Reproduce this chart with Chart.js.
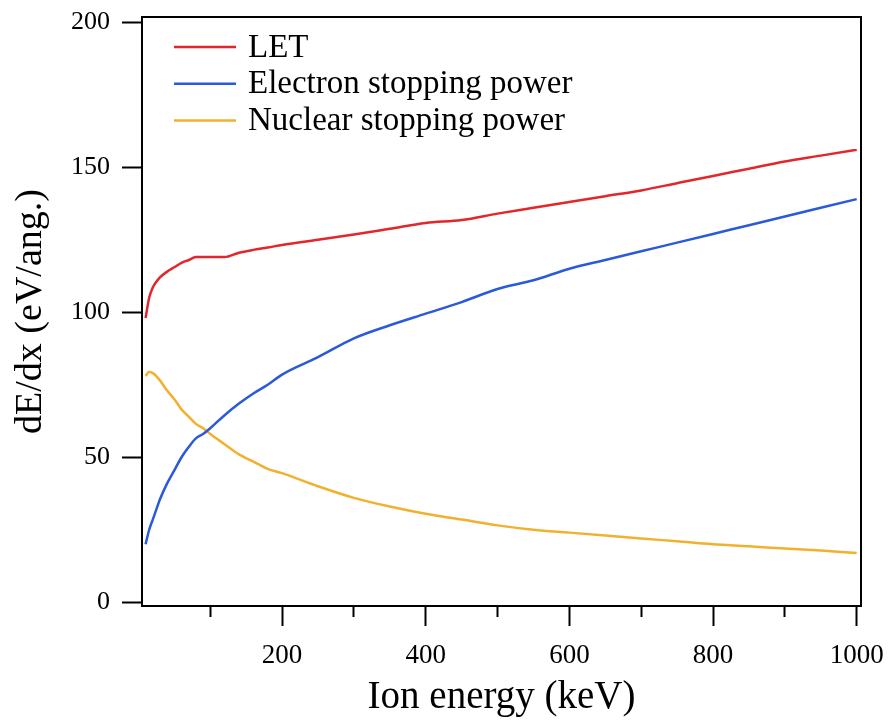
<!DOCTYPE html>
<html>
<head>
<meta charset="utf-8">
<script src="https://cdn.jsdelivr.net/npm/chart.js@4/dist/chart.umd.min.js"></script>
<style>
  html, body { margin: 0; padding: 0; background: #fff; }
  #wrap { width: 889px; height: 722px; }
</style>
</head>
<body>
<div id="wrap"><canvas id="stopping-chart"></canvas></div>
<script>
// Ion energy (keV) and stopping values (eV/ang.)
const energy = [10, 15, 20, 25, 30, 40, 50, 60, 70, 80, 90, 100, 120, 140, 160, 180, 200,
                250, 300, 350, 400, 450, 500, 550, 600, 650, 700, 750, 800, 850, 900, 950, 1000];
const letValues = [98, 105, 108.5, 110.5, 112, 114, 115.5, 117, 118, 119, 119, 119, 119, 120.5, 121.5, 122.3, 123.2,
                   125, 126.8, 128.8, 130.8, 131.8, 134, 136, 138, 140, 142, 144.5, 147, 149.5, 152, 154, 156];
const electronValues = [20, 25, 28.5, 32, 35.5, 41, 45.5, 50, 53.5, 56.5, 58, 60, 64.5, 68.5, 72, 75, 78.5,
                        84.5, 91, 95.5, 99.5, 103.5, 108, 111, 115, 118, 121, 124, 127, 130, 133, 136, 139];
const nuclearValues = [78, 79.5, 79, 78, 76.5, 73, 70, 66.5, 64, 61.5, 60, 58, 54.5, 51, 48.5, 46, 44.5,
                       40, 36, 33, 30.5, 28.5, 26.5, 25, 24, 23, 22, 21, 20, 19.3, 18.5, 17.8, 17];

const seriesLabels = ['LET', 'Electron stopping power', 'Nuclear stopping power'];
const seriesColors = ['#e3262b', '#2b5ad8', '#f1b12e'];

const xTicks = [100, 200, 300, 400, 500, 600, 700, 800, 900, 1000];
const yTicks = [0, 50, 100, 150, 200];

const serif = '"Liberation Serif", "Times New Roman", serif';

function toPoints(values) {
    return values.map((v, i) => ({ x: energy[i], y: v }));
}

// box around the plot plus the key in the upper left corner
const frameAndKey = {
    id: 'frameAndKey',
    afterDatasetsDraw(chart) {
        const { ctx, chartArea: a } = chart;
        ctx.save();
        ctx.strokeStyle = '#000';
        ctx.lineWidth = 2;
        ctx.strokeRect(a.left, a.top, a.right - a.left, a.bottom - a.top);

        ctx.font = '33px ' + serif;
        ctx.textBaseline = 'middle';
        ctx.textAlign = 'left';
        chart.data.datasets.forEach((ds, i) => {
            const y = a.top + 30 + i * 36.7;
            ctx.strokeStyle = ds.borderColor;
            ctx.lineWidth = 2.5;
            ctx.beginPath();
            ctx.moveTo(a.left + 32, y);
            ctx.lineTo(a.left + 94, y);
            ctx.stroke();
            ctx.fillStyle = '#000';
            ctx.fillText(ds.label, a.left + 106, y + 1);
        });
        ctx.restore();
    }
};

const datasets = [letValues, electronValues, nuclearValues].map((vals, i) => ({
    label: seriesLabels[i],
    data: toPoints(vals),
    borderColor: seriesColors[i],
    backgroundColor: seriesColors[i],
    borderWidth: 2.5,
    pointRadius: 0,
    fill: false,
    cubicInterpolationMode: 'monotone'
}));

new Chart(document.getElementById('stopping-chart'), {
    type: 'line',
    data: { datasets: datasets },
    plugins: [frameAndKey],
    options: {
        responsive: true,
        maintainAspectRatio: false,
        animation: false,
        layout: { padding: { left: 0, right: 28, top: 17, bottom: 0 } },
        plugins: {
            legend: { display: false },
            tooltip: { enabled: false }
        },
        scales: {
            x: {
                type: 'linear',
                min: 5,
                max: 1006,
                afterBuildTicks: (scale) => { scale.ticks = xTicks.map(v => ({ value: v })); },
                afterFit: (scale) => {
                    scale.height = 116;
                    scale.paddingLeft = 0;
                    scale.paddingRight = 0;
                },
                border: { display: true, color: '#000', width: 2 },
                grid: {
                    drawOnChartArea: false,
                    drawTicks: true,
                    tickLength: 20,
                    tickColor: '#000',
                    tickWidth: 2,
                    // short minor ticks between the labelled ones
                    tickBorderDash: (ctx) => (ctx.tick && ctx.tick.value % 200 !== 0) ? [10, 100] : []
                },
                ticks: {
                    autoSkip: false,
                    maxRotation: 0,
                    padding: 14,
                    color: '#000',
                    font: { family: serif, size: 27 },
                    callback: (value) => (value % 200 === 0 ? String(value) : '')
                },
                title: {
                    display: true,
                    text: 'Ion energy (keV)',
                    color: '#000',
                    font: { family: serif, size: 39 },
                    padding: { top: 0, bottom: 1 }
                }
            },
            y: {
                type: 'linear',
                min: -1.3,
                max: 201.8,
                afterBuildTicks: (scale) => { scale.ticks = yTicks.map(v => ({ value: v })); },
                afterFit: (scale) => {
                    scale.width = 142;
                    scale.paddingTop = 0;
                    scale.paddingBottom = 0;
                },
                border: { display: true, color: '#000', width: 2 },
                grid: {
                    drawOnChartArea: false,
                    drawTicks: true,
                    tickLength: 20,
                    tickColor: '#000',
                    tickWidth: 2
                },
                ticks: {
                    padding: 12,
                    color: '#000',
                    font: { family: serif, size: 26 }
                },
                title: {
                    display: true,
                    text: 'dE/dx (eV/ang.)',
                    color: '#000',
                    font: { family: serif, size: 38 },
                    padding: { top: 8, bottom: 0 }
                }
            }
        }
    }
});
</script>
</body>
</html>
